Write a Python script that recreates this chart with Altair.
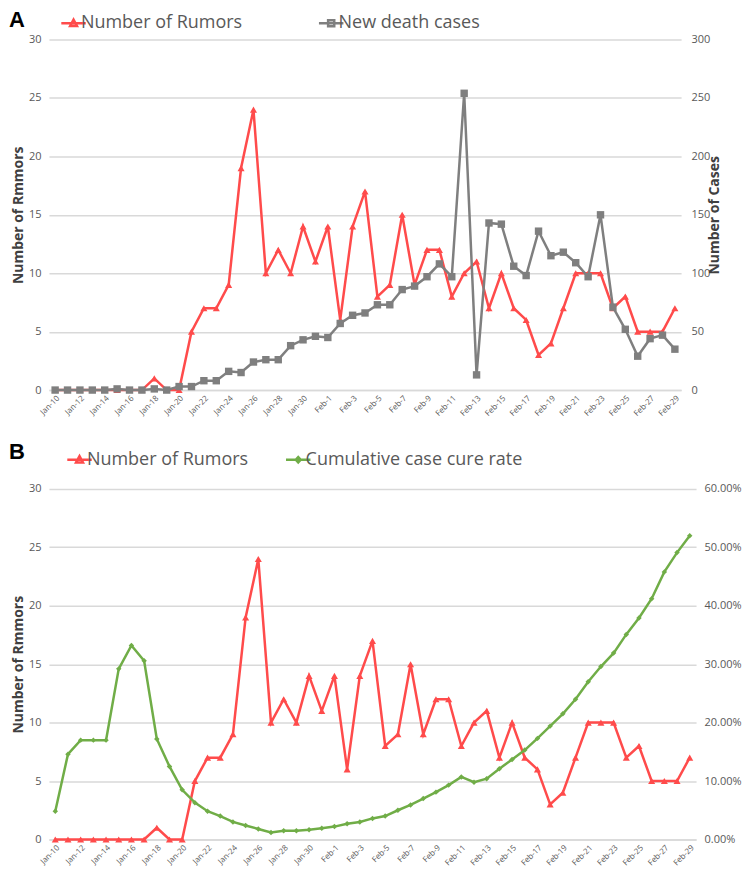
import altair as alt
import pandas as pd

dates = [f"Jan-{d}" for d in range(10, 32)] + [f"Feb-{d}" for d in range(1, 30)]

rumors = [0, 0, 0, 0, 0, 0, 0, 0, 1, 0, 0,
          5, 7, 7, 9, 19, 24, 10, 12, 10, 14, 11,
          14, 6, 14, 17, 8, 9, 15, 9, 12, 12,
          8, 10, 11, 7, 10, 7, 6, 3, 4, 7,
          10, 10, 10, 7, 8, 5, 5, 5, 7]

deaths = [0, 0, 0, 0, 0, 1, 0, 0, 1, 0, 3,
          3, 8, 8, 16, 15, 24, 26, 26, 38, 43, 46,
          45, 57, 64, 66, 73, 73, 86, 89, 97, 108,
          97, 254, 13, 143, 142, 106, 98, 136, 115, 118,
          109, 97, 150, 71, 52, 29, 44, 47, 35]

cure_pct = [4.84, 14.6, 17.0, 17.0, 17.0, 29.2, 33.2, 30.6, 17.2, 12.5, 8.5,
            6.3, 4.84, 4.0, 3.0, 2.4, 1.8, 1.2, 1.5, 1.5, 1.65, 1.9,
            2.2, 2.7, 3.0, 3.6, 4.0, 5.0, 5.9, 7.0, 8.1, 9.3,
            10.7, 9.8, 10.4, 12.1, 13.7, 15.3, 17.3, 19.4, 21.5, 24.0,
            27.0, 29.6, 31.9, 35.1, 37.9, 41.2, 45.8, 49.1, 52.0]

label_dates = dates[::2]

RED = "#FF4B4B"
GRAY = "#7F7F7F"
GREEN = "#70AD47"
FONT = "Open Sans"

df = pd.DataFrame({
    "date": dates,
    "rumors": rumors,
    "deaths": deaths,
    "cure": [v / 100 for v in cure_pct],
})

TRI = "M-0.5,0L1.5,0M0.22,0.22L0.5,-0.3L0.78,0.22Z"
SQR = "M-0.5,0L1.5,0M0.25,-0.25L0.75,-0.25L0.75,0.25L0.25,0.25Z"
DIA = "M-0.5,0L1.5,0M0.5,-0.22L0.7,0L0.5,0.22L0.3,0Z"


def x_enc():
    return alt.X("date:N", sort=dates, title=None,
                 axis=alt.Axis(values=label_dates, labelAngle=-45, labelFontSize=8,
                               labelColor="#595959", labelFont=FONT, ticks=False,
                               domainColor="#d9d9d9", domainWidth=1.5, grid=False,
                               labelPadding=4))


def left_axis(title_pad):
    return alt.Axis(values=[0, 5, 10, 15, 20, 25, 30], title="Number of Rmmors",
                    titleFontSize=14, titleFont=FONT, titleFontWeight="bold",
                    titleColor="#404040", labelFontSize=11, labelColor="#595959",
                    labelFont=FONT, ticks=False, domain=False, gridColor="#d9d9d9",
                    gridWidth=1.5, labelPadding=8, titlePadding=title_pad)


def series(field, color, shape, size, yscale, axis):
    base = alt.Chart(df).encode(
        x=x_enc(),
        y=alt.Y(f"{field}:Q", scale=yscale, axis=axis),
    )
    line = base.mark_line(color=color, strokeWidth=2.5)
    pts = base.mark_point(color=color, filled=True, shape=shape, size=size, opacity=1)
    return alt.layer(line, pts)


def legend_layer(names, colors, paths, x, y, pad):
    ldf = pd.DataFrame({"s": names})
    sc = alt.Scale(domain=names, range=colors)
    sh = alt.Scale(domain=names, range=paths)
    leg = alt.Legend(orient="none", legendX=x, legendY=y, direction="horizontal",
                     title=None, labelFontSize=18, labelFont=FONT, labelColor="#595959",
                     symbolSize=600, symbolStrokeWidth=2.5, columnPadding=pad,
                     labelOffset=0, labelLimit=400, padding=0)
    return alt.Chart(ldf).transform_filter("false").mark_point(filled=False, opacity=1).encode(
        stroke=alt.Stroke("s:N", scale=sc, legend=leg),
        shape=alt.Shape("s:N", scale=sh, legend=leg),
    )


# Panel A
rum_a = series("rumors", RED, "triangle-up", 50,
               alt.Scale(domain=[0, 30]), left_axis(3))
dth_a = series("deaths", GRAY, "square", 55,
               alt.Scale(domain=[0, 300]),
               alt.Axis(orient="right", values=[0, 50, 100, 150, 200, 250, 300],
                        title="Number of Cases", titleAngle=270, titleFontSize=14,
                        titleFont=FONT, titleFontWeight="bold", titleColor="#404040",
                        labelFontSize=11, labelColor="#595959", labelFont=FONT,
                        ticks=False, domain=False, grid=False, labelPadding=10,
                        titlePadding=12))
leg_a = legend_layer(["Number of Rumors", "New death cases"], [RED, GRAY], [TRI, SQR],
                     5, -30, 69)

panel_a = alt.layer(rum_a, dth_a, leg_a).resolve_scale(
    y="independent", stroke="independent", shape="independent"
).properties(
    width=633, height=351,
    title=alt.TitleParams("A", anchor="start", frame="group", dx=-40, fontSize=22,
                          fontWeight="bold", font="Liberation Sans", color="#000000",
                          offset=-22),
)

# Panel B
rum_b = series("rumors", RED, "triangle-up", 50,
               alt.Scale(domain=[0, 30]), left_axis(3))
cur_b = series("cure", GREEN, "diamond", 30,
               alt.Scale(domain=[0, 0.6]),
               alt.Axis(orient="right", values=[0, 0.1, 0.2, 0.3, 0.4, 0.5, 0.6],
                        format=".2%", title=None, labelFontSize=11, labelColor="#595959",
                        labelFont=FONT, ticks=False, domain=False, grid=False,
                        labelPadding=8))
leg_b = legend_layer(["Number of Rumors", "Cumulative case cure rate"], [RED, GREEN],
                     [TRI, DIA], 11, -43, 30)

panel_b = alt.layer(rum_b, cur_b, leg_b).resolve_scale(
    y="independent", stroke="independent", shape="independent"
).properties(
    width=648, height=351,
    title=alt.TitleParams("B", anchor="start", frame="group", dx=-40, fontSize=22,
                          fontWeight="bold", font="Liberation Sans", color="#000000",
                          offset=-18),
)

chart = alt.concat(panel_a, panel_b, columns=1, spacing=23).properties(
    padding={"left": 1, "top": 0, "right": 0, "bottom": 0}
).configure_view(stroke=None)

chart.save("out.html", embed_options={"renderer": "svg", "actions": False})
